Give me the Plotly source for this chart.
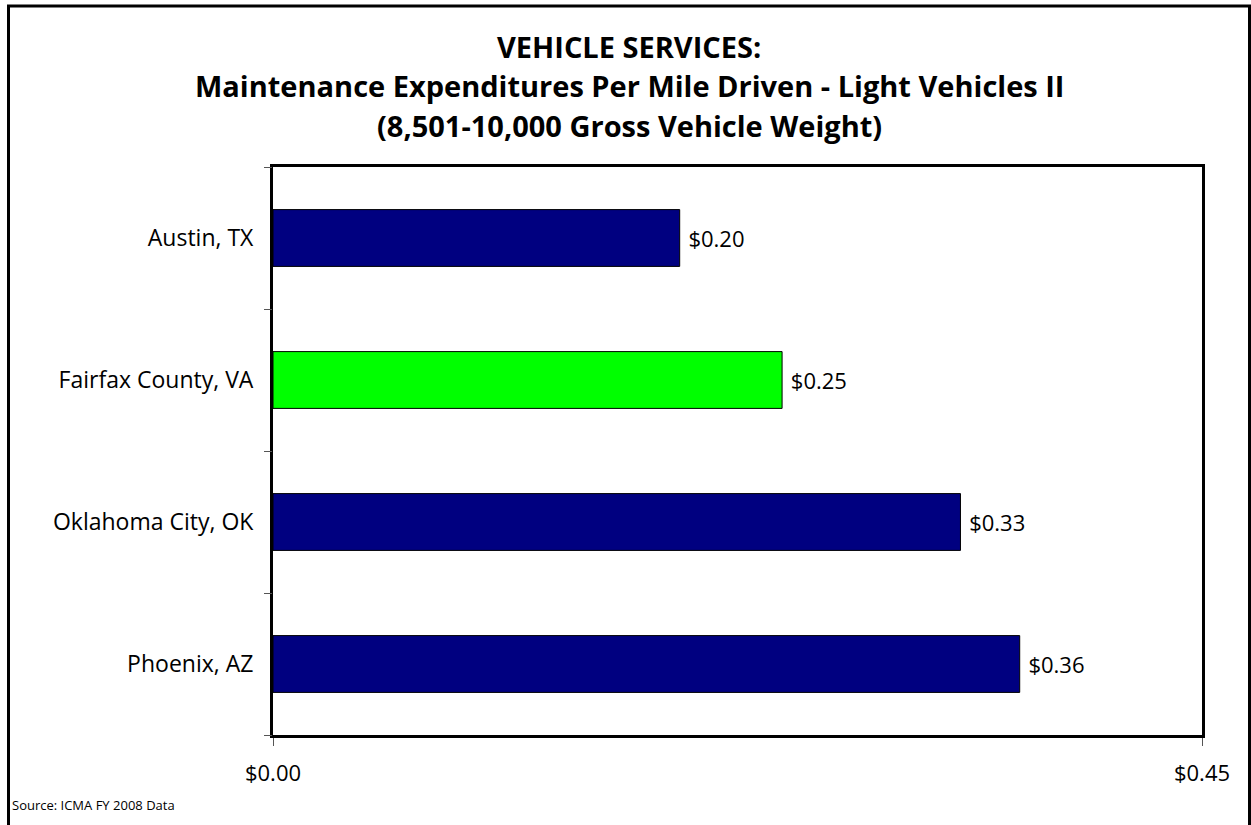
import plotly.graph_objects as go

categories = ["Austin, TX", "Fairfax County, VA", "Oklahoma City, OK", "Phoenix, AZ"]
values = [0.197, 0.2466, 0.333, 0.3617]
colors = ["#000080", "#00FF00", "#000080", "#000080"]
x_ticks = [0.0, 0.45]
x_tick_labels = ["$0.00", "$0.45"]
title_lines = ["VEHICLE SERVICES:",
               "Maintenance Expenditures Per Mile Driven - Light Vehicles II",
               "(8,501-10,000 Gross Vehicle Weight)"]
source_text = "Source: ICMA FY 2008 Data"

FONT = "Open Sans"
W, H = 1251, 825
L, R, T, B = 273, 1202, 167, 735

fig = go.Figure()
fig.add_trace(go.Bar(
    y=categories, x=values, orientation="h",
    marker=dict(color=colors, line=dict(color="black", width=1)),
    width=0.4,
    texttemplate="\u00a0$%{x:.2f}", textposition="outside",
    textfont=dict(family=FONT, size=22, color="black"),
    cliponaxis=False, showlegend=False,
))
fig.add_trace(go.Scatter(x=[0], y=[0], yaxis="y2", mode="markers",
                         marker=dict(opacity=0), showlegend=False, hoverinfo="skip"))

fig.update_layout(
    width=W, height=H,
    margin=dict(l=L, r=W - R, t=T, b=H - B),
    paper_bgcolor="white", plot_bgcolor="white",
    font=dict(family=FONT, color="black"),
    xaxis=dict(range=[0, 0.45], tickvals=x_ticks, ticktext=x_tick_labels,
               showgrid=False, zeroline=False, ticks="outside", ticklen=8,
               tickcolor="#555", tickwidth=1, ticklabelstandoff=9,
               tickfont=dict(family=FONT, size=22),
               showline=True, linecolor="black", linewidth=3, mirror=True),
    yaxis=dict(categoryorder="array", categoryarray=categories[::-1],
               range=[-0.5, 3.5], showgrid=False, ticks="", ticklabelstandoff=12,
               tickfont=dict(family=FONT, size=23),
               showline=True, linecolor="black", linewidth=3, mirror=True),
    yaxis2=dict(overlaying="y", range=[-0.5, 3.5], tickvals=[-0.5, 0.5, 1.5, 2.5, 3.5],
                showticklabels=False, ticks="outside", ticklen=8, tickcolor="#555",
                tickwidth=1, showgrid=False, zeroline=False, side="left"),
    bargap=0.6,
)

title_y = [46, 86, 125]
for line, py in zip(title_lines, title_y):
    fig.add_annotation(text="<b>" + line + "</b>", xref="paper", yref="paper",
                       x=(629 - L) / (R - L), y=(B - py) / (B - T),
                       showarrow=False, xanchor="center", yanchor="middle",
                       font=dict(family=FONT, size=29, color="black"))

fig.add_annotation(text=source_text, xref="paper", yref="paper",
                   x=(10 - L) / (R - L), y=(B - 805) / (B - T),
                   showarrow=False, xanchor="left", yanchor="middle",
                   font=dict(family=FONT, size=13, color="black"))

fig.add_shape(type="rect", xref="paper", yref="paper",
              x0=(8.5 - L) / (R - L), x1=(1249.5 - L) / (R - L),
              y0=(B - 840) / (B - T), y1=(B - 6) / (B - T),
              line=dict(color="black", width=3), fillcolor="rgba(0,0,0,0)", layer="below")

fig.write_html("out.html", config={"displayModeBar": False},
               post_script="document.body.style.margin='0';document.body.style.padding='0';")
